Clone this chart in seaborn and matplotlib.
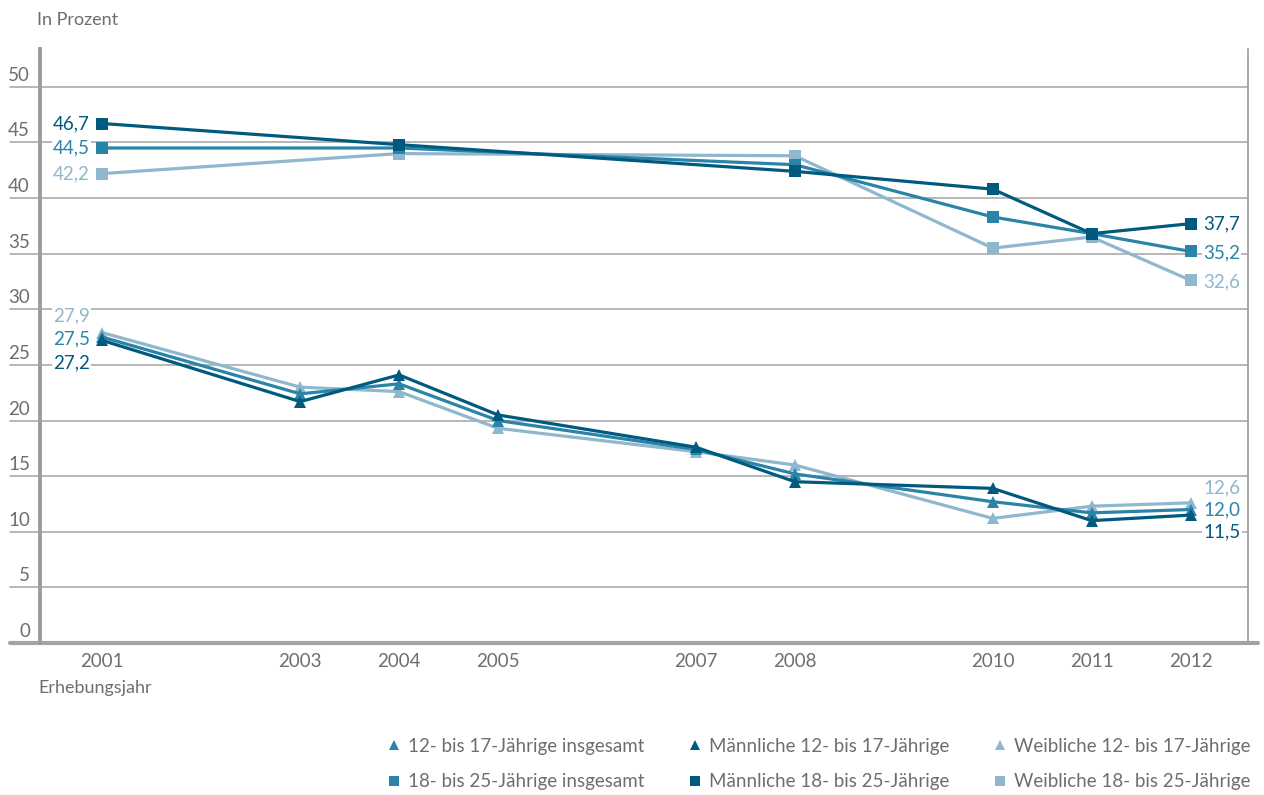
import matplotlib
matplotlib.use('Agg')
import matplotlib.pyplot as plt
from matplotlib.lines import Line2D
from matplotlib.transforms import ScaledTranslation
import seaborn as sns
import pandas as pd

# data
years = [2001, 2003, 2004, 2005, 2007, 2008, 2010, 2011, 2012]
youth_total = [27.5, 22.4, 23.3, 20.0, 17.4, 15.2, 12.7, 11.7, 12.0]
youth_male = [27.2, 21.7, 24.1, 20.5, 17.6, 14.5, 13.9, 11.0, 11.5]
youth_female = [27.9, 23.0, 22.6, 19.3, 17.2, 16.0, 11.2, 12.3, 12.6]
adult_years = [2001, 2004, 2008, 2010, 2011, 2012]
adult_total = [44.5, 44.5, 43.0, 38.3, 36.8, 35.2]
adult_male = [46.7, 44.8, 42.4, 40.8, 36.8, 37.7]
adult_female = [42.2, 44.0, 43.8, 35.5, 36.5, 32.6]
year_ticks = list(range(2001, 2013))
year_labels = [2001, 2003, 2004, 2005, 2007, 2008, 2010, 2011, 2012]
y_ticks = list(range(0, 51, 5))

names = ['12- bis 17-Jährige insgesamt', 'Männliche 12- bis 17-Jährige',
         'Weibliche 12- bis 17-Jährige', '18- bis 25-Jährige insgesamt',
         'Männliche 18- bis 25-Jährige', 'Weibliche 18- bis 25-Jährige']
series = [(years, youth_total), (years, youth_male), (years, youth_female),
          (adult_years, adult_total), (adult_years, adult_male), (adult_years, adult_female)]

MID, DARK, LIGHT = '#2a84a7', '#005a7f', '#8fb7ce'
GRAY = '#6e6e6e'
AXGRAY = '#a3a3a3'
colors = dict(zip(names, [MID, DARK, LIGHT, MID, DARK, LIGHT]))
markers = dict(zip(names, ['^', '^', '^', 's', 's', 's']))

rows = []
for name, (xs, vals) in zip(names, series):
    for x, v in zip(xs, vals):
        rows.append({'Jahr': x, 'Wert': v, 'Gruppe': name})
df = pd.DataFrame(rows)

sns.set_style('white')
plt.rcParams['font.family'] = ['Lato', 'DejaVu Sans']
FS = 13.5

fig = plt.figure(figsize=(12.64, 7.95), dpi=100)
ax = fig.add_axes([40 / 1264, 1 - 643 / 795, 1208 / 1264, (643 - 49) / 795])

# draw light series first so dark ones sit on top
order = [names[2], names[0], names[1], names[5], names[3], names[4]]
for name in order:
    sns.lineplot(data=df[df['Gruppe'] == name], x='Jahr', y='Wert', color=colors[name],
                 marker=markers[name], markersize=8, markeredgewidth=0,
                 linewidth=2.3, ax=ax, legend=False, zorder=3)

ax.set_xlim(2000.37, 2012.58)
ax.set_ylim(0, 53.4)

for v in y_ticks[1:]:
    ax.axhline(v, xmin=-0.025, xmax=1, color=AXGRAY, lw=1.1, clip_on=False, zorder=1)
ax.axhline(0, xmin=-0.025, xmax=1.008, color=AXGRAY, lw=3, clip_on=False, zorder=2)

for s in ['top', 'bottom']:
    ax.spines[s].set_visible(False)
ax.spines['left'].set_color('#9c9c9c')
ax.spines['left'].set_linewidth(2.8)
ax.spines['right'].set_color(AXGRAY)
ax.spines['right'].set_linewidth(1.3)

# y tick labels sit above their gridlines
ax.set_yticks(y_ticks)
ax.set_yticklabels([])
ax.tick_params(axis='y', length=0)
lift = ScaledTranslation(-10 / 100, 3 / 100, fig.dpi_scale_trans)
for v in y_ticks:
    ax.text(0, v, str(v), transform=ax.get_yaxis_transform() + lift,
            ha='right', va='bottom', fontsize=FS, color=GRAY)

ax.set_xticks(year_ticks)
ax.set_xticklabels([str(y) if y in year_labels else '' for y in year_ticks])
ax.tick_params(axis='x', direction='in', length=5, width=1, color=AXGRAY,
               pad=7, labelsize=FS, labelcolor=GRAY)
ax.set_xlabel('')
ax.set_ylabel('')

fig.text(37 / 1264, 1 - 20 / 795, 'In Prozent', fontsize=13, color=GRAY, va='center')
fig.text(38 / 1264, 1 - 688 / 795, 'Erhebungsjahr', fontsize=13, color=GRAY, va='center')

# value labels at start and end
box = dict(facecolor='white', edgecolor='none', pad=1)
left_labels = [(adult_male[0], DARK, 0), (adult_total[0], MID, 0), (adult_female[0], LIGHT, 0),
               (youth_female[0], LIGHT, 12), (youth_total[0], MID, -1), (youth_male[0], DARK, -16)]
for v, c, dy in left_labels:
    ax.annotate(f'{v:.1f}'.replace('.', ','), (years[0], v), xytext=(-9, dy),
                textcoords='offset points', ha='right', va='center',
                fontsize=FS, color=c, bbox=box, zorder=4)
right_labels = [(adult_male[-1], DARK, 0), (adult_total[-1], MID, -1), (adult_female[-1], LIGHT, -1),
                (youth_female[-1], LIGHT, 11), (youth_total[-1], MID, 0), (youth_male[-1], DARK, -12)]
for v, c, dy in right_labels:
    ax.annotate(f'{v:.1f}'.replace('.', ','), (years[-1], v), xytext=(9, dy),
                textcoords='offset points', ha='left', va='center',
                fontsize=FS, color=c, bbox=box, zorder=4)

# legend: 2 rows x 3 columns
handles = [Line2D([], [], linestyle='none', marker=markers[n], color=colors[n],
                  markersize=7, markeredgewidth=0) for n in names]
leg_order = [0, 3, 1, 4, 2, 5]
fig.legend([handles[i] for i in leg_order], [names[i] for i in leg_order],
           ncol=3, loc='lower right', bbox_to_anchor=(1258 / 1264, -3 / 795),
           borderaxespad=0, frameon=False, fontsize=FS, labelcolor=GRAY,
           handlelength=0.6, handletextpad=0.45, columnspacing=2.4, labelspacing=1.0)

fig.savefig('out.png', dpi=100, facecolor='white')
